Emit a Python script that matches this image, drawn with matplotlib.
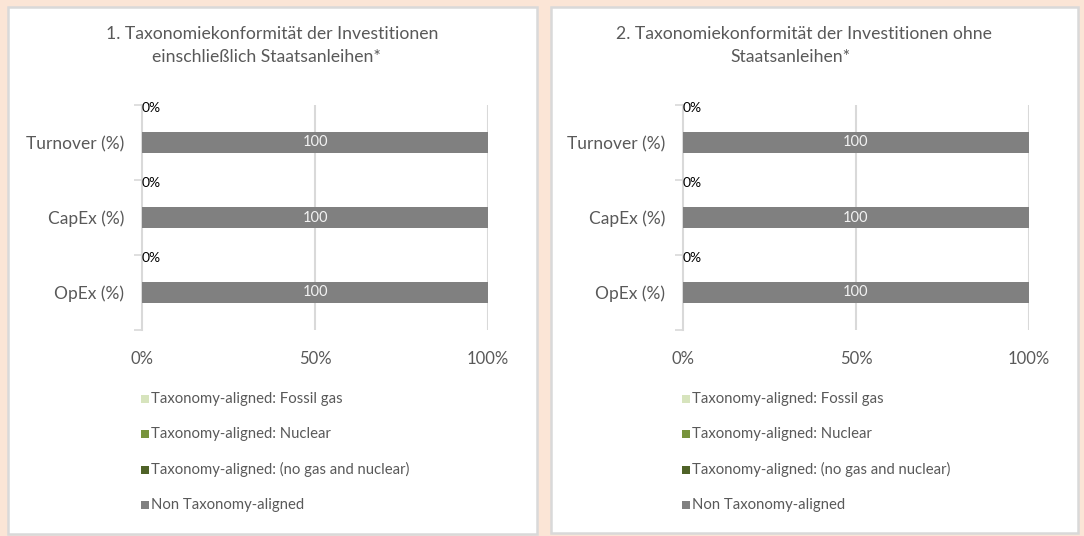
import matplotlib
matplotlib.use("Agg")
import matplotlib.pyplot as plt
from matplotlib.patches import Rectangle

plt.rcParams['font.family'] = ['Lato', 'DejaVu Sans']

# data
categories = ['Turnover (%)', 'CapEx (%)', 'OpEx (%)']
series_names = ['Taxonomy-aligned: Fossil gas', 'Taxonomy-aligned: Nuclear',
                'Taxonomy-aligned: (no gas and nuclear)', 'Non Taxonomy-aligned']
series_colors = ['#D7E4BD', '#77933C', '#4F6228', '#808080']

# chart 1: including sovereign bonds
fossil_1 = [0, 0, 0]
nuclear_1 = [0, 0, 0]
aligned_1 = [0, 0, 0]
non_aligned_1 = [100, 100, 100]

# chart 2: without sovereign bonds
fossil_2 = [0, 0, 0]
nuclear_2 = [0, 0, 0]
aligned_2 = [0, 0, 0]
non_aligned_2 = [100, 100, 100]

titles = [['1. Taxonomiekonformität der Investitionen', 'einschließlich Staatsanleihen*'],
          ['2. Taxonomiekonformität der Investitionen ohne', 'Staatsanleihen*']]
xticks = [0, 50, 100]
xtick_labels = ['0%', '50%', '100%']

W, H = 1084, 536
TXT = '#595959'
GRID = '#D9D9D9'

fig = plt.figure(figsize=(W / 100, H / 100), dpi=100)
fig.patch.set_facecolor('#FBE5D6')


def fx(x):
    return x / W


def fy(y):
    return 1 - y / H


def panel(x0, x1, y0, y1):
    fig.add_artist(Rectangle((fx(x0), fy(y1)), fx(x1 - x0), (y1 - y0) / H,
                             transform=fig.transFigure, facecolor='white',
                             edgecolor=GRID, linewidth=1.8, zorder=0))


def draw_chart(px0, px1, title_lines, title_cx, fossil, nuclear, aligned, non_aligned):
    ax = fig.add_axes([fx(px0), fy(330), fx(px1 - px0), 225 / H])
    ax.set_facecolor('none')
    ypos = list(range(len(categories)))
    left = [0] * len(categories)
    data = [fossil, nuclear, aligned, non_aligned]
    bars = []
    for vals, name, col in zip(data, series_names, series_colors):
        b = ax.barh(ypos, vals, left=left, height=0.28, color=col, label=name, zorder=3)
        bars.append(b)
        left = [l + v for l, v in zip(left, vals)]
    for rect, v in zip(bars[3], non_aligned):
        ax.text(rect.get_x() + rect.get_width() / 2, rect.get_y() + rect.get_height() / 2,
                f'{v:.0f}', ha='center', va='center', color='#F2F2F2', fontsize=10.5, zorder=4)
    for i in ypos:
        tot = fossil[i] + nuclear[i] + aligned[i]
        ax.text(tot, i - 0.46, f'{tot:.0f}%', ha='left', va='center', color='black',
                fontsize=10, zorder=4)
    ax.set_xlim(0, 100)
    ax.set_ylim(len(categories) - 0.5, -0.5)
    ax.set_xticks(xticks)
    ax.set_xticklabels(xtick_labels, color=TXT, fontsize=12)
    ax.tick_params(axis='x', length=0, pad=15)
    ax.set_yticks([i - 0.5 for i in range(len(categories) + 1)], minor=False)
    ax.set_yticklabels([])
    ax.set_yticks(ypos, minor=True)
    ax.set_yticklabels(categories, minor=True, color=TXT, fontsize=12.5)
    ax.tick_params(axis='y', which='major', length=6, color=GRID, width=1.2)
    ax.tick_params(axis='y', which='minor', length=0, pad=13)
    for s in ['top', 'right', 'bottom']:
        ax.spines[s].set_visible(False)
    ax.spines['left'].set_color(GRID)
    ax.spines['left'].set_linewidth(1.5)
    for g in xticks[1:]:
        ax.axvline(g, color=GRID, linewidth=1.5, zorder=1)
    # title
    fig.text(fx(title_cx[0]), fy(34), title_lines[0], ha='center', va='center',
             color=TXT, fontsize=12.7)
    fig.text(fx(title_cx[1]), fy(57), title_lines[1], ha='center', va='center',
             color=TXT, fontsize=12.7)
    # legend
    for k, (name, col) in enumerate(zip(series_names, series_colors)):
        yc = 399 + k * 35.3
        fig.add_artist(Rectangle((fx(px0 - 1), fy(yc + 4)), 8 / W, 8 / H,
                                 transform=fig.transFigure, facecolor=col,
                                 edgecolor='none'))
        fig.text(fx(px0 + 9), fy(yc), name, ha='left', va='center', color=TXT, fontsize=10.7)


panel(8, 537, 7, 534)
panel(551, 1078, 7, 533)
draw_chart(142, 488, titles[0], (272, 266), fossil_1, nuclear_1, aligned_1, non_aligned_1)
draw_chart(683, 1029, titles[1], (804, 790), fossil_2, nuclear_2, aligned_2, non_aligned_2)

fig.savefig('out.png', dpi=100, facecolor=fig.get_facecolor())
